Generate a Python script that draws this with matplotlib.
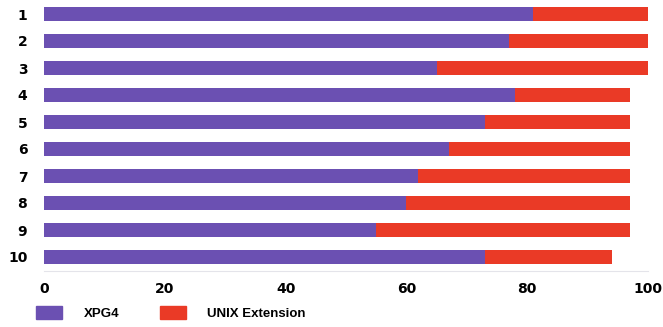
import matplotlib
matplotlib.use('Agg')
import matplotlib.pyplot as plt
from matplotlib.patches import Patch

# data
rows = ['1', '2', '3', '4', '5', '6', '7', '8', '9', '10']
xpg4 = [81, 77, 65, 78, 73, 67, 62, 60, 55, 73]
unix_ext = [19, 23, 35, 19, 24, 30, 35, 37, 42, 21]
series_names = ['XPG4', 'UNIX Extension']
xticks = [0, 20, 40, 60, 80, 100]

purple = '#6b50b2'
red = '#ea3a26'

plt.rcParams['font.family'] = ['DejaVu Sans']

fig = plt.figure(figsize=(6.63, 3.27), dpi=100)
ax = fig.add_axes([44/663, 1 - 270.5/327, 604/663, 270/327])

pos = list(range(len(rows)))
ax.barh(pos, xpg4, height=0.52, color=purple, edgecolor='none')
ax.barh(pos, unix_ext, left=xpg4, height=0.52, color=red, edgecolor='none')

ax.set_xlim(0, 100)
ax.set_ylim(9.5, -0.5)
ax.set_yticks(pos)
ax.set_yticklabels(rows, fontsize=10, fontweight='bold')
ax.set_xticks(xticks)
ax.set_xticklabels([str(t) for t in xticks], fontsize=10, fontweight='bold')
ax.tick_params(length=0)
ax.tick_params(axis='x', pad=8)
ax.tick_params(axis='y', pad=12)

for s in ['top', 'right', 'left']:
    ax.spines[s].set_visible(False)
ax.spines['bottom'].set_color('#e4e4ea')
ax.spines['bottom'].set_linewidth(0.8)

handles = [Patch(color=purple), Patch(color=red)]
fig.legend(handles, series_names, loc='lower left', bbox_to_anchor=(24/663, -5/327),
           ncol=2, frameon=False, prop={'family': 'Liberation Sans', 'weight': 'bold', 'size': 9.5},
           handlelength=2.0, handleheight=1.2, handletextpad=1.6, columnspacing=3.1)

fig.savefig('out.png', dpi=100)
